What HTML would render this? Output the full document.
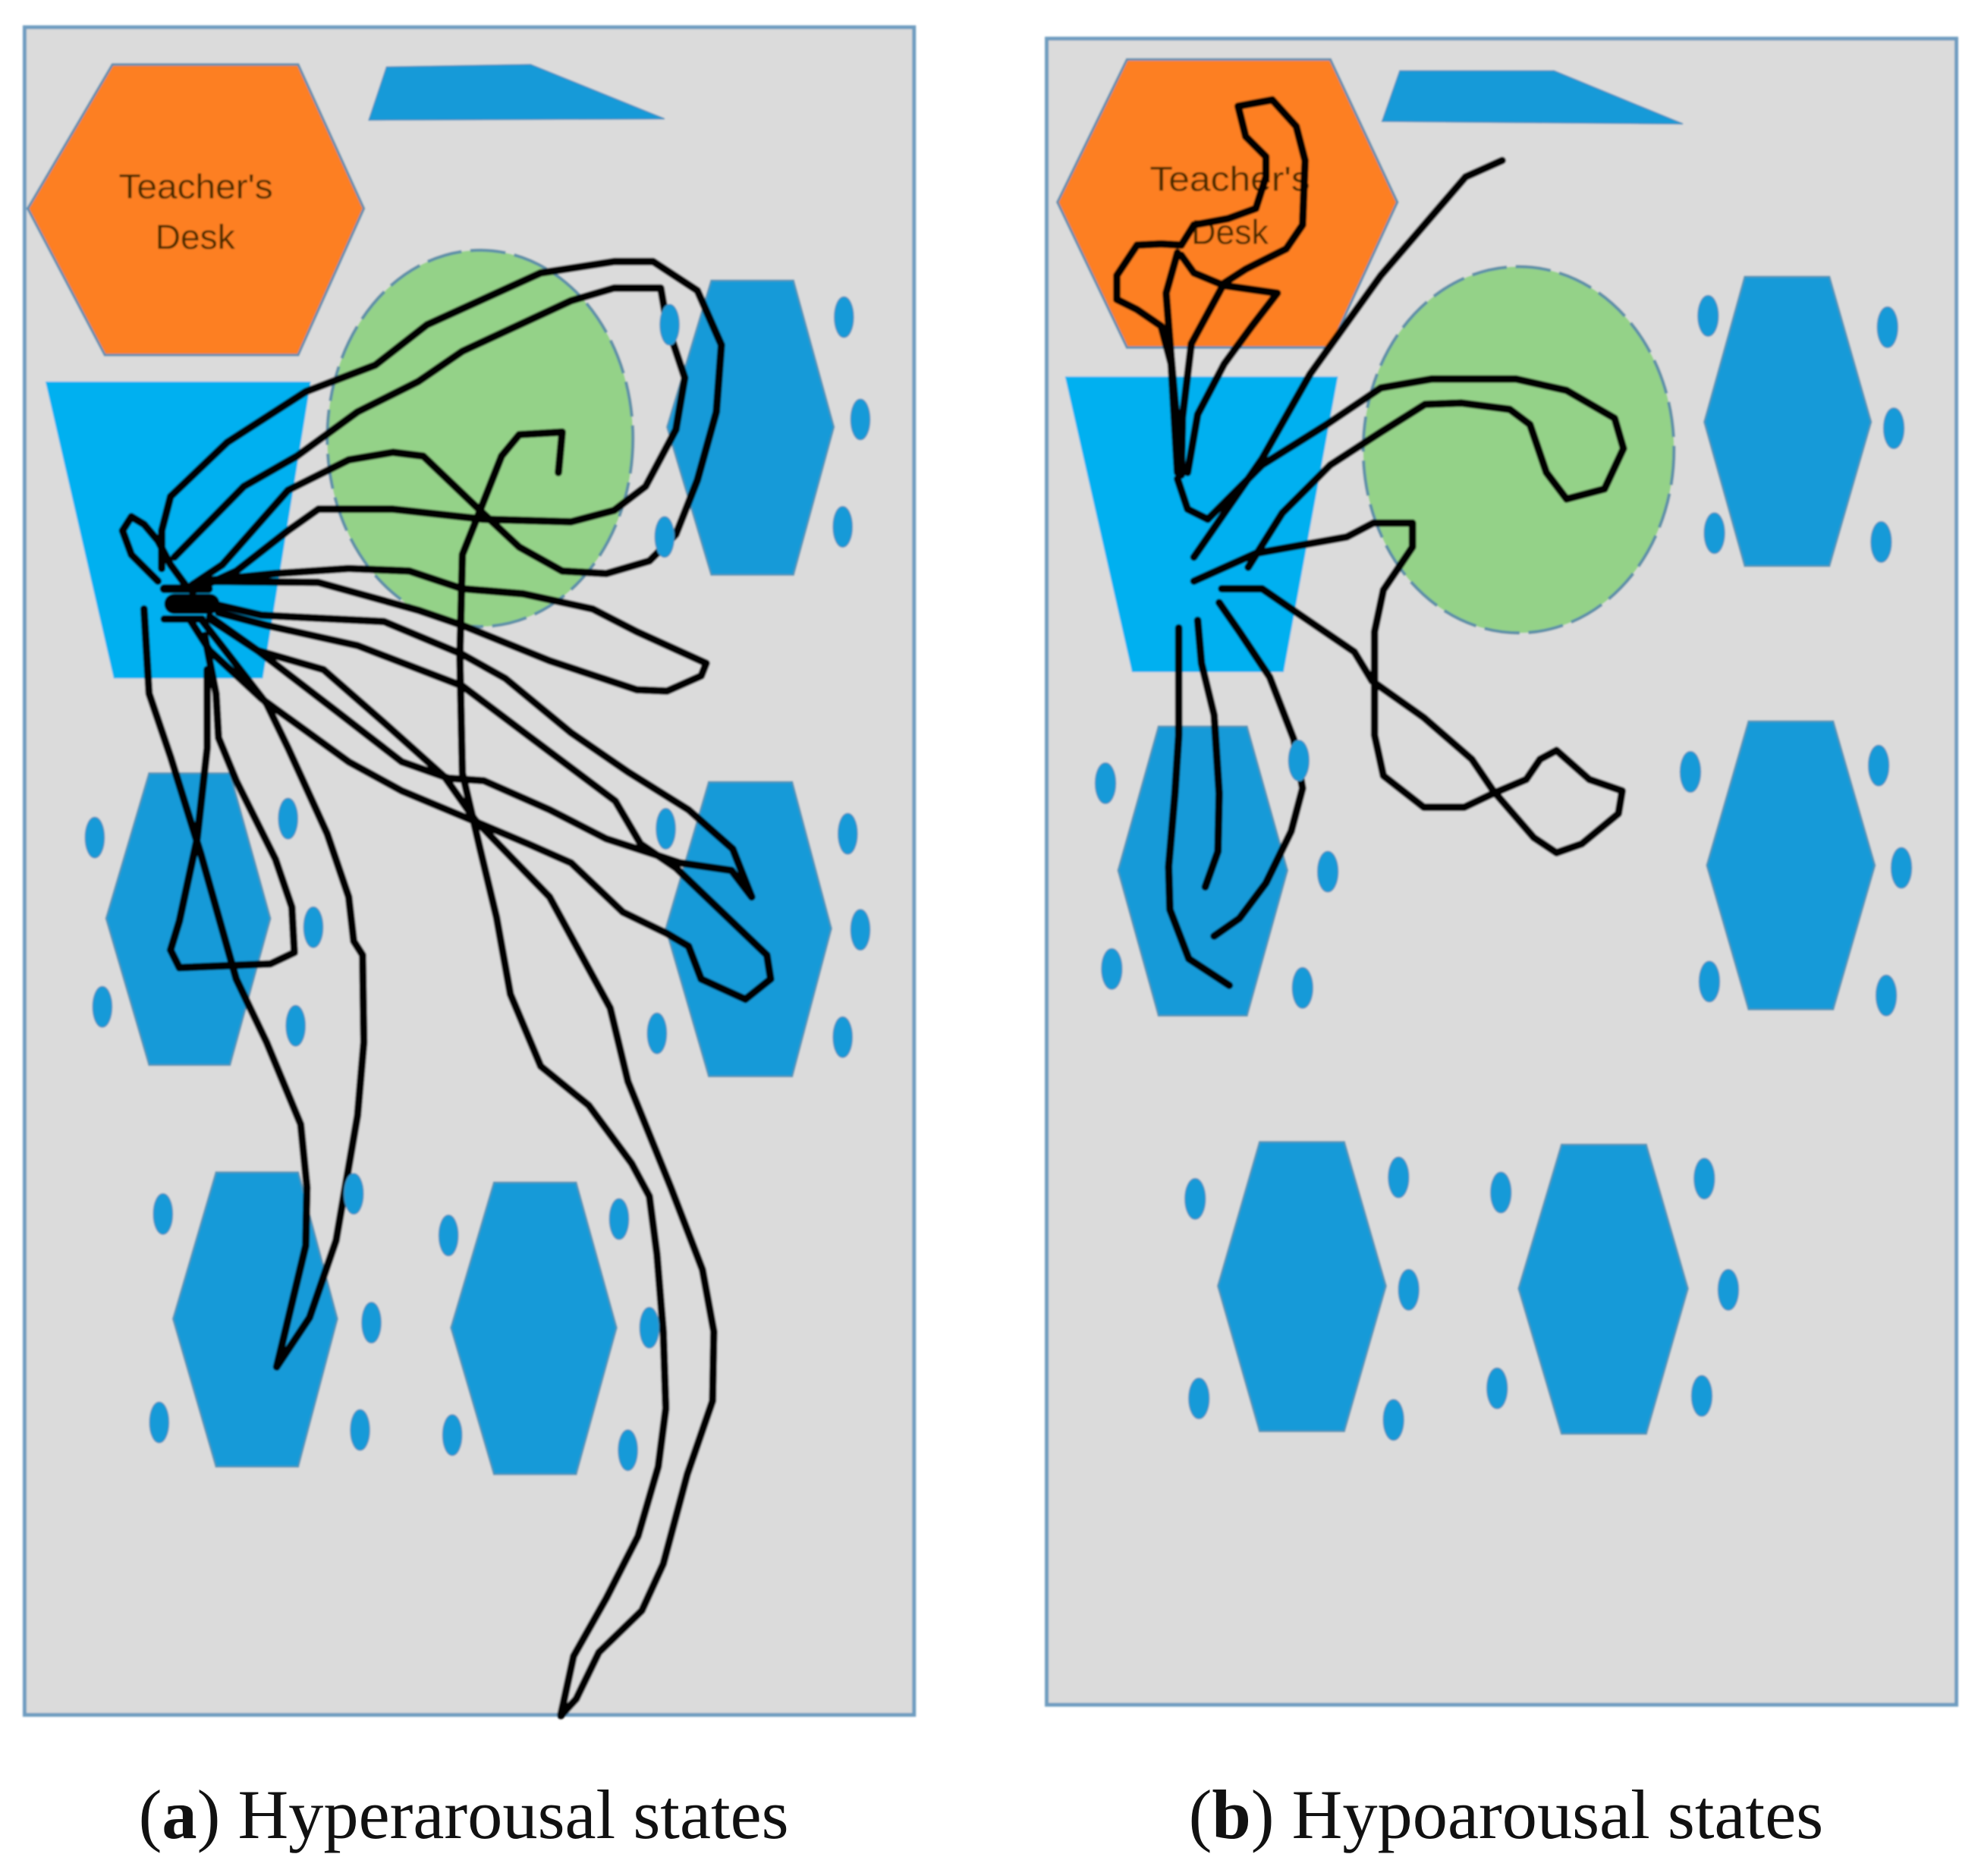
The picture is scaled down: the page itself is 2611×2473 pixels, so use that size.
<!DOCTYPE html>
<html><head><meta charset="utf-8"><style>
html,body{margin:0;padding:0;background:#fff}
svg{display:block;width:2611px;height:2473px}
.t{font-family:"Liberation Sans",sans-serif;font-size:27px;fill:#4a2a06}
.c{font-family:"Liberation Serif",serif;font-size:55.500px;fill:#111;text-anchor:middle}
.p polyline{fill:none;stroke:#030303;stroke-width:6;stroke-linecap:round;stroke-linejoin:round}
.h{fill:#199ad8;stroke:#4d94b8;stroke-width:1.5}
.s{fill:#199ad8;stroke:#3a8fc0;stroke-width:1}
</style></head><body>
<svg viewBox="0 0 1568 1485" xmlns="http://www.w3.org/2000/svg">
<defs><filter id="b" x="-2%" y="-2%" width="104%" height="104%"><feGaussianBlur stdDeviation="0.7"/></filter></defs>
<rect width="1568" height="1485" fill="#fff"/>
<g filter="url(#b)">
<!-- panel a -->
<rect x="19.500" y="21.500" width="704" height="1336" fill="#dbdbdb" stroke="#6e9cc0" stroke-width="3"/>
<polygon points="22,165 89,51 236,51 288,165 236,281 83,281" fill="#fd7f20" stroke="#5f8fb0" stroke-width="2"/>
<polygon points="306,53 420,51 526,94 292,95" class="s"/>
<ellipse cx="380" cy="347" rx="121" ry="149" fill="#94d288" stroke="#5d90a8" stroke-width="2.500" stroke-dasharray="28 7"/>
<polygon points="36,302 246,302 208,537 90,537" fill="#02b0f0"/>
<polygon class="h" points="528,338 563,222 628,222 660,338 628,455 563,455"/>
<polygon class="h" points="84,727 118,612 182,612 214,727 182,843 118,843"/>
<polygon class="h" points="527,735 561,619 627,619 658,735 627,852 561,852"/>
<polygon class="h" points="137,1044 171,928 236,928 267,1044 236,1161 171,1161"/>
<polygon class="h" points="357,1051 391,936 456,936 488,1051 456,1167 391,1167"/>
<text class="t" x="94" y="157" textLength="122" lengthAdjust="spacingAndGlyphs">Teacher's</text>
<text class="t" x="123" y="197" textLength="63" lengthAdjust="spacingAndGlyphs">Desk</text>
<g class="p">
<polyline points="128,450 128,420 135,393 180,350 242,310 297,289 338,257 428,216 486,207 517,207 552,230 571,273 567,326 552,380 535,423 514,444 480,454 445,452 411,433 380,404 335,361 311,358 276,364 228,388 176,447 152,463"/>
<polyline points="138,441 193,385 235,361 283,326 331,302 366,278 452,238 486,228 523,228 528,257 542,299 535,340 511,385 486,404 452,413 383,411 311,403 252,403 228,420 187,452 152,468"/>
<polyline points="125,460 104,439 97,420 104,409 114,415 125,428 135,447 149,466"/>
<polyline points="442,374 445,342 411,344 397,361 380,404 366,439 364,520 366,612 380,672 393,726 404,787 428,844 466,875 500,921 514,947 520,993 525,1054 527,1115 521,1161 505,1216 480,1265 454,1311 444,1357"/>
<polyline points="159,460 218,454 276,450 324,452 366,466 414,470 469,482 504,500 559,525 555,535 528,547 504,546 435,523 366,495 331,483 252,461 159,460"/>
<polyline points="173,479 207,487 304,492 366,518 400,537 452,580 497,611 545,641 580,672 595,710 579,689 538,683 517,676 480,664 435,641 383,618 355,616 318,603 269,565 204,515 166,488"/>
<polyline points="173,485 211,495 283,511 366,543 435,595 487,634 507,668 535,687 607,756 610,775 590,791 555,775 545,749 528,739 493,722 452,683 418,668 373,649 318,626 276,603 207,553 166,515 150,490"/>
<polyline points="166,490 204,515 256,530 304,572 352,615 376,649 435,710 483,798 497,856 531,940 556,1005 565,1054 564,1109 544,1167 525,1238 508,1275 474,1308 456,1345 444,1358"/>
<polyline points="114,482 118,549 135,599 159,676 187,775 211,825 238,890 243,940 242,986 219,1082 245,1043 266,982 283,883 288,825 287,756 280,745 276,710 259,660 228,592 211,557 159,490"/>
<polyline points="164,530 164,592 156,664 142,729 135,752 142,766 214,763 233,754 231,718 218,680 187,618 173,584 171,549 162,503"/>
<polyline points="130,466 165,466" style="stroke-width:7"/>
<polyline points="130,490 160,490" style="stroke-width:6"/>
<polyline points="138,478 166,478" style="stroke-width:16"/>
</g>
<g class="s">
<ellipse cx="530" cy="257" rx="7.500" ry="16"/><ellipse cx="668" cy="251" rx="7.500" ry="16"/><ellipse cx="681" cy="332" rx="7.500" ry="16"/><ellipse cx="667" cy="417" rx="7.500" ry="16"/><ellipse cx="526" cy="425" rx="7.500" ry="16"/>
<ellipse cx="75" cy="663" rx="7.500" ry="16"/><ellipse cx="228" cy="648" rx="7.500" ry="16"/><ellipse cx="248" cy="734" rx="7.500" ry="16"/><ellipse cx="234" cy="812" rx="7.500" ry="16"/><ellipse cx="81" cy="797" rx="7.500" ry="16"/>
<ellipse cx="527" cy="656" rx="7.500" ry="16"/><ellipse cx="671" cy="660" rx="7.500" ry="16"/><ellipse cx="681" cy="736" rx="7.500" ry="16"/><ellipse cx="667" cy="821" rx="7.500" ry="16"/><ellipse cx="520" cy="818" rx="7.500" ry="16"/>
<ellipse cx="129" cy="961" rx="7.500" ry="16"/><ellipse cx="280" cy="945" rx="7.500" ry="16"/><ellipse cx="294" cy="1047" rx="7.500" ry="16"/><ellipse cx="285" cy="1132" rx="7.500" ry="16"/><ellipse cx="126" cy="1126" rx="7.500" ry="16"/>
<ellipse cx="355" cy="978" rx="7.500" ry="16"/><ellipse cx="490" cy="965" rx="7.500" ry="16"/><ellipse cx="514" cy="1051" rx="7.500" ry="16"/><ellipse cx="497" cy="1148" rx="7.500" ry="16"/><ellipse cx="358" cy="1136" rx="7.500" ry="16"/>
</g>
<!-- panel b -->
<rect x="828.500" y="30.500" width="720" height="1319" fill="#dbdbdb" stroke="#6e9cc0" stroke-width="3"/>
<polygon points="837,160 892,47 1053,47 1106,160 1053,275 892,275" fill="#fd7f20" stroke="#5f8fb0" stroke-width="2"/>
<polygon points="1108,56 1230,56 1332,98 1094,96" class="s"/>
<ellipse cx="1202" cy="356" rx="123" ry="145" fill="#94d288" stroke="#5d90a8" stroke-width="2.500" stroke-dasharray="28 7"/>
<polygon points="843,298 1059,298 1016,532 896,532" fill="#02b0f0"/>
<polygon class="h" points="1349,334 1381,219 1448,219 1481,334 1448,448 1381,448"/>
<polygon class="h" points="885,689 917,575 987,575 1019,689 987,804 917,804"/>
<polygon class="h" points="1351,685 1384,571 1451,571 1484,685 1451,799 1384,799"/>
<polygon class="h" points="964,1018 997,904 1064,904 1097,1018 1064,1133 997,1133"/>
<polygon class="h" points="1202,1020 1236,906 1303,906 1336,1020 1303,1135 1236,1135"/>
<text class="t" x="910" y="151" textLength="127" lengthAdjust="spacingAndGlyphs">Teacher's</text>
<text class="t" x="943" y="193" textLength="61" lengthAdjust="spacingAndGlyphs">Desk</text>
<g class="p">
<polyline points="932,374 927,288 919,258 900,245 884,237 884,218 900,194 919,193 935,194 945,178 972,173 994,165 1002,140 1002,124 986,108 980,84 1007,79 1026,100 1033,127 1031,178 1018,197 986,213 969,224 943,272 936,330 935,376"/>
<polyline points="932,200 923,232 927,283 932,340"/>
<polyline points="935,202 945,216 969,226 1011,232 991,258 969,288 948,328 940,374"/>
<polyline points="932,379 940,403 956,411"/>
<polyline points="945,441 999,363 1037,296 1093,218 1160,140 1189,127"/>
<polyline points="956,411 999,368 1050,336 1093,307 1133,300 1200,300 1240,309 1278,331 1285,355 1270,387 1240,395 1224,374 1211,336 1195,324 1157,319 1128,320 1093,342 1053,368 1015,406 988,449"/>
<polyline points="945,460 994,438 1066,425 1087,414 1118,414 1118,433 1095,467 1088,500 1088,582 1095,614 1127,639 1159,639 1182,628 1208,617 1219,601 1232,594 1258,617 1284,626 1281,644 1252,668 1232,675 1214,663 1182,626 1165,601 1127,568 1086,539 1072,516 1028,486 999,466 967,466"/>
<polyline points="933,497 933,582 930,628 925,686 926,720 941,759 973,780"/>
<polyline points="948,491 951,525 961,566 965,628 964,674 954,702"/>
<polyline points="965,477 981,500 1005,536 1024,585 1031,624 1022,658 1002,699 981,727 961,741"/>
</g>
<g class="s">
<ellipse cx="1352" cy="250" rx="8" ry="16"/><ellipse cx="1494" cy="259" rx="8" ry="16"/><ellipse cx="1499" cy="339" rx="8" ry="16"/><ellipse cx="1489" cy="429" rx="8" ry="16"/><ellipse cx="1357" cy="422" rx="8" ry="16"/>
<ellipse cx="875" cy="620" rx="8" ry="16"/><ellipse cx="1028" cy="602" rx="8" ry="16"/><ellipse cx="1051" cy="690" rx="8" ry="16"/><ellipse cx="1031" cy="782" rx="8" ry="16"/><ellipse cx="880" cy="767" rx="8" ry="16"/>
<ellipse cx="1338" cy="611" rx="8" ry="16"/><ellipse cx="1487" cy="606" rx="8" ry="16"/><ellipse cx="1505" cy="687" rx="8" ry="16"/><ellipse cx="1493" cy="788" rx="8" ry="16"/><ellipse cx="1353" cy="777" rx="8" ry="16"/>
<ellipse cx="946" cy="949" rx="8" ry="16"/><ellipse cx="1107" cy="932" rx="8" ry="16"/><ellipse cx="1115" cy="1021" rx="8" ry="16"/><ellipse cx="1103" cy="1124" rx="8" ry="16"/><ellipse cx="949" cy="1107" rx="8" ry="16"/>
<ellipse cx="1188" cy="944" rx="8" ry="16"/><ellipse cx="1349" cy="933" rx="8" ry="16"/><ellipse cx="1368" cy="1021" rx="8" ry="16"/><ellipse cx="1347" cy="1105" rx="8" ry="16"/><ellipse cx="1185" cy="1099" rx="8" ry="16"/>
</g>
</g>
<!-- captions -->
<text class="c" x="367" y="1455"><tspan>(</tspan><tspan font-weight="bold">a</tspan><tspan>) Hyperarousal states</tspan></text>
<text class="c" x="1192" y="1455"><tspan>(</tspan><tspan font-weight="bold">b</tspan><tspan>) Hypoarousal states</tspan></text>
</svg>
</body></html>
